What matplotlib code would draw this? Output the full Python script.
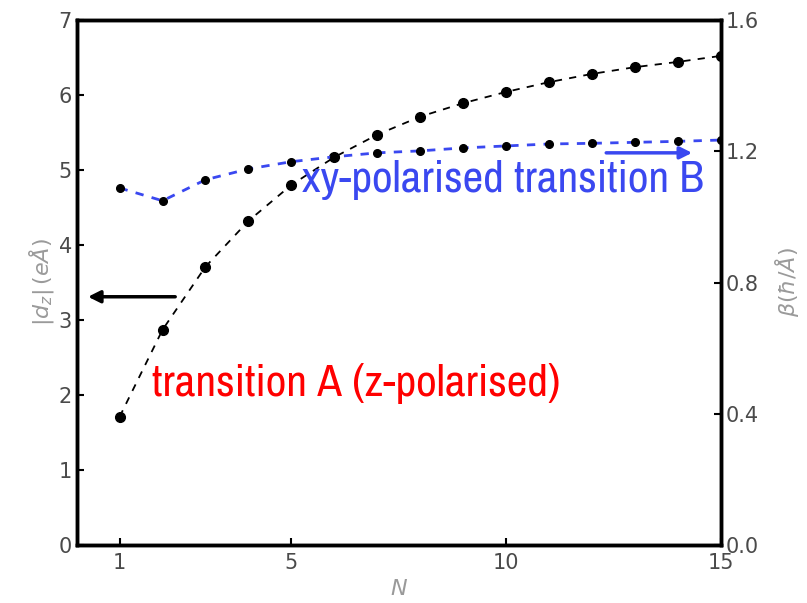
import numpy as np
import matplotlib.pyplot as plt

N = np.arange(1, 16)
d_z = [1.71, 2.87, 3.71, 4.32, 4.80, 5.17, 5.47, 5.71, 5.89, 6.04,
       6.17, 6.28, 6.37, 6.44, 6.52]
beta = [1.088, 1.049, 1.113, 1.146, 1.168, 1.183, 1.195, 1.201, 1.210,
        1.216, 1.222, 1.224, 1.227, 1.230, 1.234]

left_ticks = [0, 1, 2, 3, 4, 5, 6, 7]
right_ticks = [0.0, 0.4, 0.8, 1.2, 1.6]
x_ticks = [1, 5, 10, 15]

tick_col = '#4a4a4a'
label_col = '#9a9a9a'
narrow = ['Archivo Narrow', 'PT Sans Narrow', 'DejaVu Sans']

fig = plt.figure(figsize=(8.07, 6.03), dpi=100)
ax = fig.add_axes([0.095, 0.096, 0.798, 0.871])
ax2 = ax.twinx()

ax.plot(N, d_z, 'k--', marker='o', markersize=7, lw=1.3, dashes=(4, 4), zorder=3)
ax2.plot(N, beta, '--', color='#3a48f0', lw=2, dashes=(3, 3),
         marker='o', markersize=5.5, mfc='k', mec='k')

ax.set_xlim(0, 15)
ax.set_ylim(0, 7)
ax2.set_ylim(0, 1.6)
ax.set_xticks(x_ticks)
ax.set_yticks(left_ticks)
ax2.set_yticks(right_ticks)
ax2.set_yticklabels(['%.1f' % t for t in right_ticks])

for a in (ax, ax2):
    a.tick_params(direction='in', length=5, width=1.5, labelsize=15,
                  labelcolor=tick_col, color='k')
    for s in a.spines.values():
        s.set_linewidth(2.5)
ax.tick_params(axis='x', pad=6)

ax.set_xlabel('$N$', fontsize=16, color=label_col, labelpad=4)
ax.set_ylabel(r'$|d_z|\,(e\AA)$', fontsize=16, color=label_col, labelpad=2)
ax2.set_ylabel(r'$\beta(\hbar/\AA)$', fontsize=16, color=label_col, labelpad=10)

ax.annotate('', xy=(0.2, 3.31), xytext=(2.36, 3.31),
            arrowprops=dict(arrowstyle='-|>', color='k', lw=2.5, mutation_scale=18))
ax2.annotate('', xy=(14.4, 1.195), xytext=(12.27, 1.195),
             arrowprops=dict(arrowstyle='-|>', color='#3a48f0', lw=2.5, mutation_scale=18))

ax.text(1.75, 2.15, 'transition A (z-polarised)', color='red', fontsize=32.5,
        family=narrow, va='center', ha='left')
ax.text(5.25, 4.87, 'xy-polarised transition B', color='#3a48f0', fontsize=32.5,
        family=narrow, va='center', ha='left')

fig.savefig('out.png', dpi=100)
